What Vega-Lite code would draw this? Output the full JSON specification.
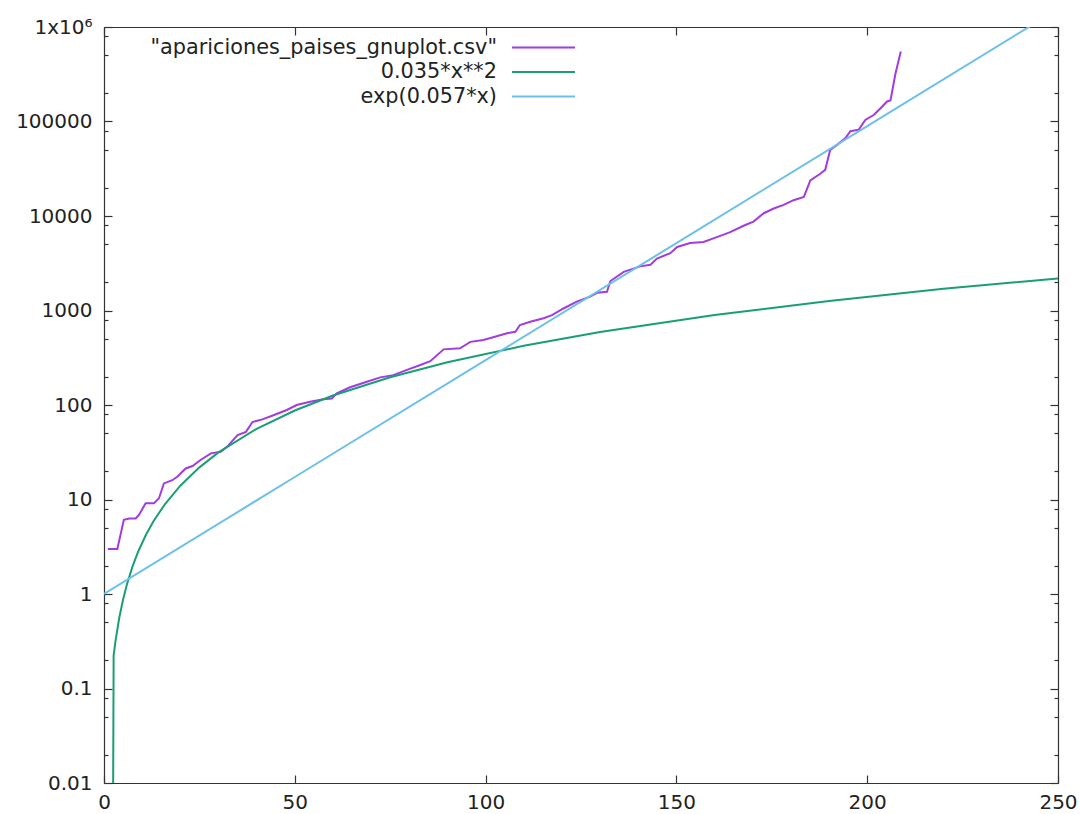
{
  "$schema": "https://vega.github.io/schema/vega-lite/v6.json",
  "width": 954,
  "height": 756,
  "autosize": {"type": "none"},
  "padding": {"left": 104, "top": 27, "right": 22, "bottom": 31},
  "background": "white",
  "config": {
    "view": {"stroke": null},
    "axis": {
      "labelFont": "DejaVu Sans",
      "labelFontSize": 20,
      "labelColor": "#222222",
      "domainColor": "#333333",
      "domainWidth": 1.2,
      "tickColor": "#333333",
      "tickWidth": 1.2,
      "grid": false,
      "title": null
    }
  },
  "data": {
    "values": [
      {"series": "\"apariciones_paises_gnuplot.csv\"", "x": 1, "y": 3},
      {"series": "\"apariciones_paises_gnuplot.csv\"", "x": 3.5, "y": 3},
      {"series": "\"apariciones_paises_gnuplot.csv\"", "x": 5.2, "y": 6.1},
      {"series": "\"apariciones_paises_gnuplot.csv\"", "x": 6.6, "y": 6.3},
      {"series": "\"apariciones_paises_gnuplot.csv\"", "x": 8.3, "y": 6.3},
      {"series": "\"apariciones_paises_gnuplot.csv\"", "x": 9.2, "y": 6.9},
      {"series": "\"apariciones_paises_gnuplot.csv\"", "x": 10.9, "y": 9.1},
      {"series": "\"apariciones_paises_gnuplot.csv\"", "x": 13.1, "y": 9.1},
      {"series": "\"apariciones_paises_gnuplot.csv\"", "x": 14.4, "y": 10.3},
      {"series": "\"apariciones_paises_gnuplot.csv\"", "x": 15.7, "y": 14.8},
      {"series": "\"apariciones_paises_gnuplot.csv\"", "x": 17.9, "y": 16},
      {"series": "\"apariciones_paises_gnuplot.csv\"", "x": 19.2, "y": 17.4},
      {"series": "\"apariciones_paises_gnuplot.csv\"", "x": 21.4, "y": 21.3},
      {"series": "\"apariciones_paises_gnuplot.csv\"", "x": 23.2, "y": 22.6},
      {"series": "\"apariciones_paises_gnuplot.csv\"", "x": 25.3, "y": 26.2},
      {"series": "\"apariciones_paises_gnuplot.csv\"", "x": 28, "y": 30.8},
      {"series": "\"apariciones_paises_gnuplot.csv\"", "x": 30.6, "y": 32},
      {"series": "\"apariciones_paises_gnuplot.csv\"", "x": 32.3, "y": 36.3},
      {"series": "\"apariciones_paises_gnuplot.csv\"", "x": 35, "y": 48},
      {"series": "\"apariciones_paises_gnuplot.csv\"", "x": 37.2, "y": 52},
      {"series": "\"apariciones_paises_gnuplot.csv\"", "x": 38.9, "y": 66},
      {"series": "\"apariciones_paises_gnuplot.csv\"", "x": 41.5, "y": 70.5},
      {"series": "\"apariciones_paises_gnuplot.csv\"", "x": 44.4, "y": 78},
      {"series": "\"apariciones_paises_gnuplot.csv\"", "x": 47.9, "y": 88.5},
      {"series": "\"apariciones_paises_gnuplot.csv\"", "x": 50.5, "y": 100},
      {"series": "\"apariciones_paises_gnuplot.csv\"", "x": 54, "y": 108},
      {"series": "\"apariciones_paises_gnuplot.csv\"", "x": 57.5, "y": 115},
      {"series": "\"apariciones_paises_gnuplot.csv\"", "x": 59.7, "y": 117},
      {"series": "\"apariciones_paises_gnuplot.csv\"", "x": 61, "y": 133},
      {"series": "\"apariciones_paises_gnuplot.csv\"", "x": 64.5, "y": 154},
      {"series": "\"apariciones_paises_gnuplot.csv\"", "x": 68.9, "y": 176},
      {"series": "\"apariciones_paises_gnuplot.csv\"", "x": 72.4, "y": 196},
      {"series": "\"apariciones_paises_gnuplot.csv\"", "x": 75.8, "y": 207},
      {"series": "\"apariciones_paises_gnuplot.csv\"", "x": 79.4, "y": 235},
      {"series": "\"apariciones_paises_gnuplot.csv\"", "x": 82.9, "y": 265},
      {"series": "\"apariciones_paises_gnuplot.csv\"", "x": 85.5, "y": 291},
      {"series": "\"apariciones_paises_gnuplot.csv\"", "x": 89, "y": 388},
      {"series": "\"apariciones_paises_gnuplot.csv\"", "x": 93.3, "y": 398},
      {"series": "\"apariciones_paises_gnuplot.csv\"", "x": 96, "y": 466},
      {"series": "\"apariciones_paises_gnuplot.csv\"", "x": 99.4, "y": 487},
      {"series": "\"apariciones_paises_gnuplot.csv\"", "x": 102, "y": 522},
      {"series": "\"apariciones_paises_gnuplot.csv\"", "x": 105.6, "y": 574},
      {"series": "\"apariciones_paises_gnuplot.csv\"", "x": 107.8, "y": 595},
      {"series": "\"apariciones_paises_gnuplot.csv\"", "x": 109, "y": 702},
      {"series": "\"apariciones_paises_gnuplot.csv\"", "x": 111.7, "y": 760},
      {"series": "\"apariciones_paises_gnuplot.csv\"", "x": 115.2, "y": 827},
      {"series": "\"apariciones_paises_gnuplot.csv\"", "x": 117.4, "y": 893},
      {"series": "\"apariciones_paises_gnuplot.csv\"", "x": 120.4, "y": 1050},
      {"series": "\"apariciones_paises_gnuplot.csv\"", "x": 123.9, "y": 1240},
      {"series": "\"apariciones_paises_gnuplot.csv\"", "x": 127.4, "y": 1400},
      {"series": "\"apariciones_paises_gnuplot.csv\"", "x": 129.2, "y": 1540},
      {"series": "\"apariciones_paises_gnuplot.csv\"", "x": 131.8, "y": 1580},
      {"series": "\"apariciones_paises_gnuplot.csv\"", "x": 132.7, "y": 2050},
      {"series": "\"apariciones_paises_gnuplot.csv\"", "x": 136.2, "y": 2560},
      {"series": "\"apariciones_paises_gnuplot.csv\"", "x": 140.5, "y": 2930},
      {"series": "\"apariciones_paises_gnuplot.csv\"", "x": 143.2, "y": 3050},
      {"series": "\"apariciones_paises_gnuplot.csv\"", "x": 144.9, "y": 3550},
      {"series": "\"apariciones_paises_gnuplot.csv\"", "x": 148.4, "y": 4040},
      {"series": "\"apariciones_paises_gnuplot.csv\"", "x": 150.2, "y": 4700},
      {"series": "\"apariciones_paises_gnuplot.csv\"", "x": 153.6, "y": 5180},
      {"series": "\"apariciones_paises_gnuplot.csv\"", "x": 157.1, "y": 5300},
      {"series": "\"apariciones_paises_gnuplot.csv\"", "x": 160.6, "y": 5980},
      {"series": "\"apariciones_paises_gnuplot.csv\"", "x": 164.1, "y": 6750},
      {"series": "\"apariciones_paises_gnuplot.csv\"", "x": 167.6, "y": 7880},
      {"series": "\"apariciones_paises_gnuplot.csv\"", "x": 170.2, "y": 8720},
      {"series": "\"apariciones_paises_gnuplot.csv\"", "x": 172.9, "y": 10700},
      {"series": "\"apariciones_paises_gnuplot.csv\"", "x": 175.5, "y": 12000},
      {"series": "\"apariciones_paises_gnuplot.csv\"", "x": 178.1, "y": 13100},
      {"series": "\"apariciones_paises_gnuplot.csv\"", "x": 180.7, "y": 14700},
      {"series": "\"apariciones_paises_gnuplot.csv\"", "x": 183.4, "y": 15950},
      {"series": "\"apariciones_paises_gnuplot.csv\"", "x": 185.1, "y": 23800},
      {"series": "\"apariciones_paises_gnuplot.csv\"", "x": 187.7, "y": 28000},
      {"series": "\"apariciones_paises_gnuplot.csv\"", "x": 189, "y": 30800},
      {"series": "\"apariciones_paises_gnuplot.csv\"", "x": 190.3, "y": 50000},
      {"series": "\"apariciones_paises_gnuplot.csv\"", "x": 192.1, "y": 56600},
      {"series": "\"apariciones_paises_gnuplot.csv\"", "x": 194.3, "y": 66700},
      {"series": "\"apariciones_paises_gnuplot.csv\"", "x": 195.6, "y": 79000},
      {"series": "\"apariciones_paises_gnuplot.csv\"", "x": 197.8, "y": 82000},
      {"series": "\"apariciones_paises_gnuplot.csv\"", "x": 199.5, "y": 104000},
      {"series": "\"apariciones_paises_gnuplot.csv\"", "x": 201.7, "y": 117000},
      {"series": "\"apariciones_paises_gnuplot.csv\"", "x": 203.5, "y": 138000},
      {"series": "\"apariciones_paises_gnuplot.csv\"", "x": 205.2, "y": 163000},
      {"series": "\"apariciones_paises_gnuplot.csv\"", "x": 206.1, "y": 167000},
      {"series": "\"apariciones_paises_gnuplot.csv\"", "x": 207.4, "y": 320000},
      {"series": "\"apariciones_paises_gnuplot.csv\"", "x": 208.8, "y": 550000},
      {"series": "0.035*x**2", "x": 2.4, "y": 0.01},
      {"series": "0.035*x**2", "x": 2.525, "y": 0.2231},
      {"series": "0.035*x**2", "x": 3, "y": 0.315},
      {"series": "0.035*x**2", "x": 4, "y": 0.56},
      {"series": "0.035*x**2", "x": 5, "y": 0.875},
      {"series": "0.035*x**2", "x": 6, "y": 1.26},
      {"series": "0.035*x**2", "x": 7.5, "y": 1.969},
      {"series": "0.035*x**2", "x": 9, "y": 2.835},
      {"series": "0.035*x**2", "x": 11, "y": 4.235},
      {"series": "0.035*x**2", "x": 13, "y": 5.915},
      {"series": "0.035*x**2", "x": 16, "y": 8.96},
      {"series": "0.035*x**2", "x": 20, "y": 14},
      {"series": "0.035*x**2", "x": 25, "y": 21.875},
      {"series": "0.035*x**2", "x": 30, "y": 31.5},
      {"series": "0.035*x**2", "x": 40, "y": 56},
      {"series": "0.035*x**2", "x": 50, "y": 87.5},
      {"series": "0.035*x**2", "x": 60, "y": 126},
      {"series": "0.035*x**2", "x": 75, "y": 196.9},
      {"series": "0.035*x**2", "x": 90, "y": 283.5},
      {"series": "0.035*x**2", "x": 110, "y": 423.5},
      {"series": "0.035*x**2", "x": 130, "y": 591.5},
      {"series": "0.035*x**2", "x": 160, "y": 896},
      {"series": "0.035*x**2", "x": 190, "y": 1263.5},
      {"series": "0.035*x**2", "x": 220, "y": 1694},
      {"series": "0.035*x**2", "x": 250, "y": 2187.5},
      {"series": "exp(0.057*x)", "x": 0, "y": 1},
      {"series": "exp(0.057*x)", "x": 50, "y": 17.3},
      {"series": "exp(0.057*x)", "x": 100, "y": 298.9},
      {"series": "exp(0.057*x)", "x": 150, "y": 5166},
      {"series": "exp(0.057*x)", "x": 200, "y": 89352},
      {"series": "exp(0.057*x)", "x": 250, "y": 1545000}
    ]
  },
  "layer": [
    {
      "mark": {"type": "line", "strokeWidth": 2, "clip": true},
      "encoding": {
        "x": {
          "field": "x", "type": "quantitative",
          "scale": {"domain": [0, 250], "nice": false, "zero": false},
          "axis": {"orient": "bottom", "values": [0, 50, 100, 150, 200, 250], "tickSize": -8, "labelPadding": 17, "labelFlush": false}
        },
        "y": {
          "field": "y", "type": "quantitative",
          "scale": {"type": "log", "domain": [0.01, 1000000], "nice": false},
          "axis": {
            "orient": "left",
            "values": [0.01, 0.1, 1, 10, 100, 1000, 10000, 100000, 1000000],
            "labelExpr": "datum.value >= 999999 ? '1x10⁶' : (datum.value < 1 ? format(datum.value, '.2~f') : format(datum.value, 'd'))",
            "tickSize": -8, "labelPadding": 20, "labelFlush": false
          }
        },
        "color": {
          "field": "series", "type": "nominal",
          "scale": {
            "domain": ["\"apariciones_paises_gnuplot.csv\"", "0.035*x**2", "exp(0.057*x)"],
            "range": ["#a23be0", "#1a9e77", "#6cc0ea"]
          },
          "legend": {
            "title": null, "orient": "none", "legendX": 428, "legendY": 9,
            "direction": "vertical", "labelAlign": "right", "labelOffset": -58,
            "symbolType": "M-3,0H3", "symbolSize": 441, "symbolStrokeWidth": 2, "symbolFillColor": "transparent",
            "labelFont": "DejaVu Sans", "labelFontSize": 20.8, "labelColor": "#222222",
            "labelLimit": 600, "rowPadding": 2.5, "padding": 0
          }
        }
      }
    },
    {
      "mark": {"type": "point", "opacity": 0},
      "encoding": {
        "x": {"field": "x", "type": "quantitative", "axis": {"orient": "top", "values": [0, 50, 100, 150, 200, 250], "tickSize": -8, "labels": false}},
        "y": {"field": "y", "type": "quantitative", "axis": {"orient": "right", "values": [0.01, 0.1, 1, 10, 100, 1000, 10000, 100000, 1000000], "tickSize": -8, "labels": false}}
      }
    },
    {
      "mark": {"type": "point", "opacity": 0},
      "encoding": {
        "y": {"field": "y", "type": "quantitative", "axis": {"orient": "left", "domain": false, "labels": false, "tickSize": -4,
          "values": [0.02, 0.05, 0.08, 0.2, 0.5, 0.8, 2, 5, 8, 20, 50, 80, 200, 500, 800, 2000, 5000, 8000, 20000, 50000, 80000, 200000, 500000, 800000]}}
      }
    },
    {
      "mark": {"type": "point", "opacity": 0},
      "encoding": {
        "y": {"field": "y", "type": "quantitative", "axis": {"orient": "right", "domain": false, "labels": false, "tickSize": -4,
          "values": [0.02, 0.05, 0.08, 0.2, 0.5, 0.8, 2, 5, 8, 20, 50, 80, 200, 500, 800, 2000, 5000, 8000, 20000, 50000, 80000, 200000, 500000, 800000]}}
      }
    }
  ],
  "resolve": {"axis": {"x": "independent", "y": "independent"}}
}
